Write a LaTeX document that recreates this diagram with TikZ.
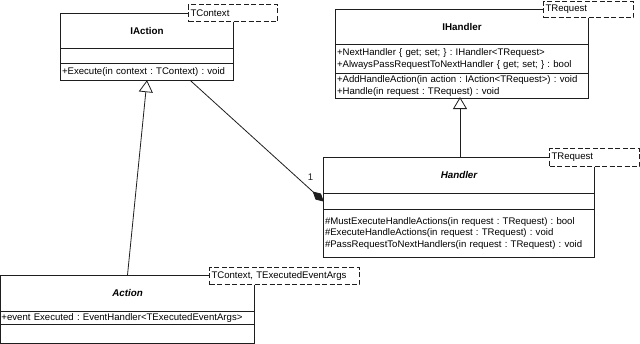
\documentclass[tikz,border=0pt]{standalone}
\usepackage{fontspec}
\setmainfont{Liberation Sans}
\usetikzlibrary{arrows.meta,positioning}
\definecolor{UMLgrau}{RGB}{30,30,30}
\frenchspacing

\begin{document}
\begin{tikzpicture}[x=1pt, y=-1pt,
		part/.style={rectangle, fill=white, inner xsep=1pt, inner ysep=0pt,
			align=left, font=\fontsize{9.6}{11.8}\selectfont, anchor=north},
		title/.style={part, align=center, font=\fontsize{9.8}{12}\selectfont\bfseries},
		frame/.style={draw=UMLgrau, line width=0.7pt},
		tmpl/.style={rectangle, draw=UMLgrau, dash pattern=on 5pt off 2.5pt, line width=1pt, fill=white,
			inner xsep=2pt, inner ysep=0pt, anchor=north west, font=\fontsize{9.6}{11.8}\selectfont, align=left},
		gen/.style={-{Triangle[open, length=12pt, width=14pt]}, line width=0.8pt, UMLgrau, fill=white},
		comp/.style={-{Diamond[length=15pt, width=8pt]}, line width=0.8pt, UMLgrau}]

	\useasboundingbox (0,0) rectangle (640,343);

	% IAction
	\node[title, text width=170pt, minimum height=35pt] (iatitle) at (147,13) {IAction};
	\node[part, text width=170pt, minimum height=15pt] (iaattr) at (iatitle.south) {};
	\node[part, text width=170pt, minimum height=16pt] (iameth) at (iaattr.south) {+Execute(in context : TContext) : void};
	\draw[frame] (iatitle.north west) rectangle (iameth.south east)
		(iaattr.north west) -- (iaattr.north east) (iaattr.south west) -- (iaattr.south east);
	\node[tmpl, text width=85pt, minimum height=17pt] (iatmpl) at (188,4) {TContext};

	% IHandler
	\node[title, text width=250pt, minimum height=35pt] (ihtitle) at (462,9) {IHandler};
	\node[part, text width=250pt, minimum height=29pt] (ihattr) at (ihtitle.south)
		{+NextHandler \{ get; set; \} : IHandler<TRequest>\\+AlwaysPassRequestToNextHandler \{ get; set; \} : bool};
	\node[part, text width=250pt, minimum height=24pt] (ihmeth) at (ihattr.south)
		{+AddHandleAction(in action : IAction<TRequest>) : void\\+Handle(in request : TRequest) : void};
	\draw[frame] (ihtitle.north west) rectangle (ihmeth.south east)
		(ihattr.north west) -- (ihattr.north east) (ihattr.south west) -- (ihattr.south east);
	\node[tmpl, text width=86pt, minimum height=16pt] (ihtmpl) at (543,1) {TRequest};

	% Handler
	\node[title, text width=268pt, minimum height=36pt, font=\fontsize{9.8}{12}\selectfont\bfseries\itshape] (htitle) at (459,157) {Handler};
	\node[part, text width=268pt, minimum height=16pt] (hattr) at (htitle.south) {};
	\node[part, text width=268pt, minimum height=47pt] (hmeth) at (hattr.south)
		{\#MustExecuteHandleActions(in request : TRequest) : bool\\\#ExecuteHandleActions(in request : TRequest) : void\\\#PassRequestToNextHandlers(in request : TRequest) : void};
	\draw[frame] (htitle.north west) rectangle (hmeth.south east)
		(hattr.north west) -- (hattr.north east) (hattr.south west) -- (hattr.south east);
	\node[tmpl, text width=86pt, minimum height=18pt] (htmpl) at (549,148) {TRequest};

	% Action
	\node[title, text width=252pt, minimum height=36pt, font=\fontsize{9.8}{12}\selectfont\bfseries\itshape] (atitle) at (127.5,275) {Action};
	\node[part, text width=252pt, minimum height=13pt] (aattr) at (atitle.south) {+event Executed : EventHandler<TExecutedEventArgs>};
	\node[part, text width=252pt, minimum height=18pt] (ameth) at (aattr.south) {};
	\draw[frame] (atitle.north west) rectangle (ameth.south east)
		(aattr.north west) -- (aattr.north east) (aattr.south west) -- (aattr.south east);
	\node[tmpl, text width=146pt, minimum height=17pt] (atmpl) at (209,267) {TContext, TExecutedEventArgs};

	% Connectors
	\draw[gen] (atitle.north) -- (iameth.south);
	\draw[gen] (htitle.north -| 460,0) -- (460,97);
	\draw[comp] ([xshift=43pt]iameth.south) -- node[pos=0.9, above=5pt, font=\fontsize{9.6}{11.8}\selectfont] {1} (hattr.west);
\end{tikzpicture}
\end{document}
